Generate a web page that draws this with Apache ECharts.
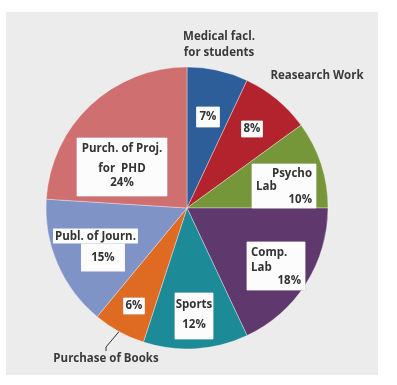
<!DOCTYPE html>
<html>
<head>
<meta charset="utf-8">
<script src="https://cdn.jsdelivr.net/npm/echarts@6/dist/echarts.min.js"></script>
<style>
html,body{margin:0;padding:0;background:#fff;}
#c{width:397px;height:385px;}
</style>
</head>
<body>
<div id="c"></div>
<script>
// ---- data ----
const categories = ['Medical facl.\nfor students', 'Reasearch Work', 'Psycho Lab', 'Comp. Lab', 'Sports', 'Purchase of Books', 'Publ. of Journ.', 'Purch. of Proj. for PHD'];
const values = [7, 8, 10, 18, 12, 6, 15, 24];
const colors = ['#2d5e9a', '#b3232d', '#76963a', '#5f386e', '#1c8a97', '#df6a22', '#7f93c6', '#cf6f6f'];
const outerLabelIdx = [0, 1, 5];

// ---- layout config (label placement) ----
const innerPos = [
  {x: 208, y: 117}, {x: 252, y: 129}, {x: 284, y: 186}, {x: 276, y: 266},
  {x: 194, y: 316}, {x: 134, y: 306}, {x: 53, y: 250, align: 'left'}, {x: 122, y: 167}
];
const outerPos = {0: {x: 219, y: 45}, 1: {x: 317, y: 76}, 5: {x: 106, y: 359}};

const FONT = '"Open Sans", "Liberation Sans", sans-serif';
const TXT = '#333';
const base = {fontFamily: FONT, fontSize: 11.5, fontWeight: 'bold', color: TXT};

function innerFormatter(p) {
  const i = p.dataIndex, v = p.value + '%';
  switch (i) {
    case 2: return '{r|Psycho}\n{l|Lab}\n{r|' + v + '}';
    case 3: return '{l|Comp.}\n{l|Lab}\n{r|' + v + '}';
    case 4: return '{c|Sports}\n{g|}\n{c|' + v + '}';
    case 6: return '{a|Publ. of Journ.}\n{s|}{b|' + v + '}';
    case 7: return '{c|Purch. of Proj.}\n{g|}\n{c|for  PHD}\n{c|' + v + '}';
    default: return '{c|' + v + '}';
  }
}

function innerLabelStyle(i) {
  const box = {backgroundColor: '#fcfcfc', borderColor: '#d8d8d8', borderWidth: 0.5};
  switch (i) {
    case 0: return Object.assign({}, box, {padding: [3, 3, 3, 3]});
    case 1: return Object.assign({}, box, {padding: [1, 2, 1, 2]});
    case 2: return Object.assign({}, box, {width: 56, padding: [4, 4, 3, 4]});
    case 3: return Object.assign({}, box, {width: 50, padding: [3, 4, 4, 4]});
    case 4: return Object.assign({}, box, {width: 32, padding: [5, 3, 7, 3]});
    case 5: return Object.assign({}, box, {padding: [1, 2, 1, 2]});
    case 6: return {};
    case 7: return Object.assign({}, box, {width: 84, padding: [4, 3, 6, 3]});
  }
}

const rich = {
  c: Object.assign({}, base, {align: 'center', lineHeight: 14}),
  l: Object.assign({}, base, {align: 'left', lineHeight: 15}),
  r: Object.assign({}, base, {align: 'right', lineHeight: 11}),
  g: {height: 6, lineHeight: 6},
  a: Object.assign({}, base, {backgroundColor: '#fcfcfc', padding: [2, 2, 1, 2], lineHeight: 15}),
  s: {width: 15, height: 28},
  b: Object.assign({}, base, {backgroundColor: '#fcfcfc', width: 44, height: 28, lineHeight: 28, align: 'center'})
};

const center = [187, 208];
const radius = 141;

const chart = echarts.init(document.getElementById('c'), null, {renderer: 'canvas'});
chart.setOption({
  animation: false,
  backgroundColor: '#ffffff',
  graphic: [{type: 'rect', z: -10, shape: {x: 6, y: 12, width: 372, height: 363}, style: {fill: '#ececec'}}],
  series: [
    {
      type: 'pie',
      center: center,
      radius: radius,
      startAngle: 90,
      clockwise: true,
      color: colors,
      itemStyle: {borderColor: 'rgba(255,255,255,0.35)', borderWidth: 1},
      emphasis: {disabled: true},
      data: values.map((v, i) => ({
        value: v, name: categories[i],
        label: Object.assign({show: true, position: 'inside', overflow: 'none', formatter: innerFormatter, rich: rich}, innerLabelStyle(i))
      })),
      labelLine: {show: false},
      labelLayout: function (p) {
        const q = innerPos[p.dataIndex];
        return {x: q.x, y: q.y, align: q.align || 'center', verticalAlign: 'middle'};
      }
    },
    {
      type: 'pie',
      center: center,
      radius: radius,
      startAngle: 90,
      clockwise: true,
      silent: true,
      itemStyle: {color: 'rgba(0,0,0,0)'},
      data: values.map((v, i) => ({
        value: v, name: categories[i],
        label: {show: outerLabelIdx.includes(i)},
        labelLine: {show: i === 5, length: 6, length2: 4, lineStyle: {color: '#333', width: 1}}
      })),
      label: {
        position: 'outside',
        overflow: 'none',
        formatter: '{b}',
        fontFamily: FONT, fontSize: 11.5, fontWeight: 'bold', color: '#3a3a3a', lineHeight: 16, align: 'center'
      },
      labelLayout: function (p) {
        const q = outerPos[p.dataIndex];
        if (!q) return {};
        return {x: q.x, y: q.y, align: 'center', verticalAlign: 'middle'};
      }
    }
  ]
});
</script>
</body>
</html>
